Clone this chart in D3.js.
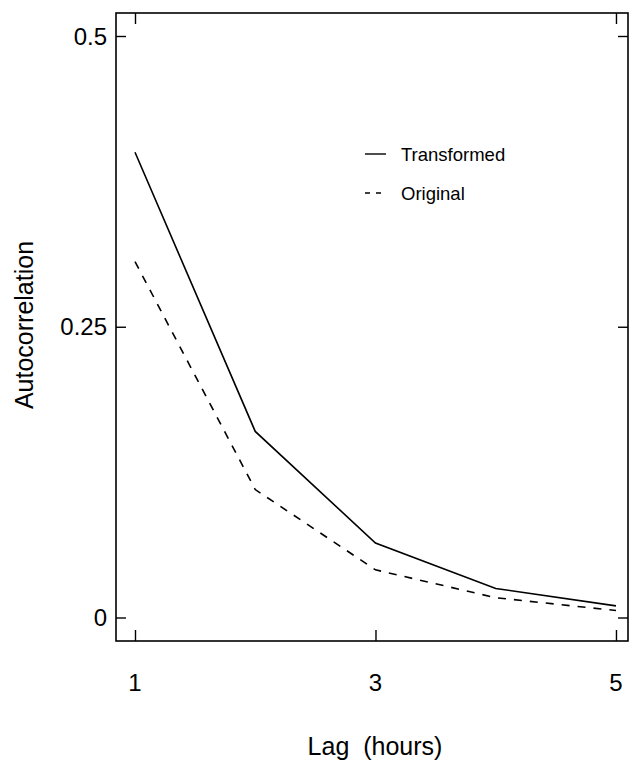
<!DOCTYPE html>
<html>
<head>
<meta charset="utf-8">
<script src="https://cdn.jsdelivr.net/npm/d3@7"></script>
<style>
  body { margin: 0; background: #fff; }
  svg { font-family: "Liberation Sans", Arial, sans-serif; }
</style>
</head>
<body>
<svg id="chart" width="629" height="760"></svg>
<script>
// lag (hours) and autocorrelation of the two series
var lags = [1, 2, 3, 4, 5];
var transformed = [0.400, 0.160, 0.064, 0.025, 0.010];
var original = [0.306, 0.110, 0.041, 0.017, 0.006];
var xTicks = [1, 3, 5];
var yTicks = [0, 0.25, 0.5];
var yTickLabels = ["0", "0.25", "0.5"];

var width = 629, height = 760;
var padding = {left: 116, right: 1, top: 13, bottom: 119};

var svg = d3.select("#chart");

var x = d3.scaleLinear()
  .domain([0.842, 5.1])
  .range([padding.left, width - padding.right]);
var y = d3.scaleLinear()
  .domain([0, 0.5])
  .range([617.5, 36]);

var innerBottom = height - padding.bottom;

// frame
svg.append("rect")
  .attr("x", padding.left)
  .attr("y", padding.top)
  .attr("width", width - padding.right - padding.left)
  .attr("height", innerBottom - padding.top)
  .attr("fill", "none")
  .attr("stroke", "#000")
  .attr("stroke-width", 1.6);

// ticks point inwards, labels set by hand below
var yAxis = d3.axisRight(y).tickValues(yTicks).tickSize(10).tickFormat("");
svg.append("g").attr("transform", "translate(" + padding.left + ",0)").call(yAxis);
var yAxisR = d3.axisLeft(y).tickValues(yTicks).tickSize(10).tickFormat("");
svg.append("g").attr("transform", "translate(" + (width - padding.right) + ",0)").call(yAxisR);
var xAxis = d3.axisTop(x).tickValues(xTicks).tickSize(11).tickFormat("");
svg.append("g").attr("transform", "translate(0," + innerBottom + ")").call(xAxis);
var xAxisT = d3.axisBottom(x).tickValues([1, 5]).tickSize(11).tickFormat("");
svg.append("g").attr("transform", "translate(0," + padding.top + ")").call(xAxisT);
svg.selectAll(".domain").remove();
svg.selectAll(".tick line").attr("stroke", "#000").attr("stroke-width", 1.4);

// tick labels
svg.selectAll(".ylab").data(yTicks).enter().append("text")
  .attr("x", 107)
  .attr("y", function(d){ return y(d) + 8.5; })
  .attr("text-anchor", "end")
  .attr("font-size", 24)
  .text(function(d, i){ return yTickLabels[i]; });
svg.selectAll(".xlab").data(xTicks).enter().append("text")
  .attr("x", function(d){ return x(d); })
  .attr("y", 691)
  .attr("text-anchor", "middle")
  .attr("font-size", 24)
  .text(function(d){ return d; });

// axis titles
svg.append("text")
  .attr("x", 375).attr("y", 755)
  .attr("text-anchor", "middle")
  .attr("font-size", 25)
  .attr("xml:space", "preserve")
  .text("Lag  (hours)");
svg.append("text")
  .attr("transform", "translate(33,325) rotate(-90)")
  .attr("text-anchor", "middle")
  .attr("font-size", 25)
  .text("Autocorrelation");

// series
var line = d3.line()
  .x(function(d){ return x(d[0]); })
  .y(function(d){ return y(d[1]); });

svg.append("path")
  .datum(d3.zip(lags, transformed))
  .attr("d", line)
  .attr("fill", "none")
  .attr("stroke", "#000")
  .attr("stroke-width", 1.6);
svg.append("path")
  .datum(d3.zip(lags, original))
  .attr("d", line)
  .attr("fill", "none")
  .attr("stroke", "#000")
  .attr("stroke-width", 1.6)
  .attr("stroke-dasharray", "8,8");

// legend
var legend = [
  {label: "Transformed", dash: null, y: 154},
  {label: "Original", dash: "5,6", y: 193}
];
var lg = svg.selectAll(".legend").data(legend).enter().append("g");
lg.append("line")
  .attr("x1", 365).attr("x2", 386)
  .attr("y1", function(d){ return d.y; })
  .attr("y2", function(d){ return d.y; })
  .attr("stroke", "#000")
  .attr("stroke-width", 1.4)
  .attr("stroke-dasharray", function(d){ return d.dash; });
lg.append("text")
  .attr("x", 401)
  .attr("y", function(d){ return d.y + 6.5; })
  .attr("font-size", 18.5)
  .text(function(d){ return d.label; });
</script>
</body>
</html>
